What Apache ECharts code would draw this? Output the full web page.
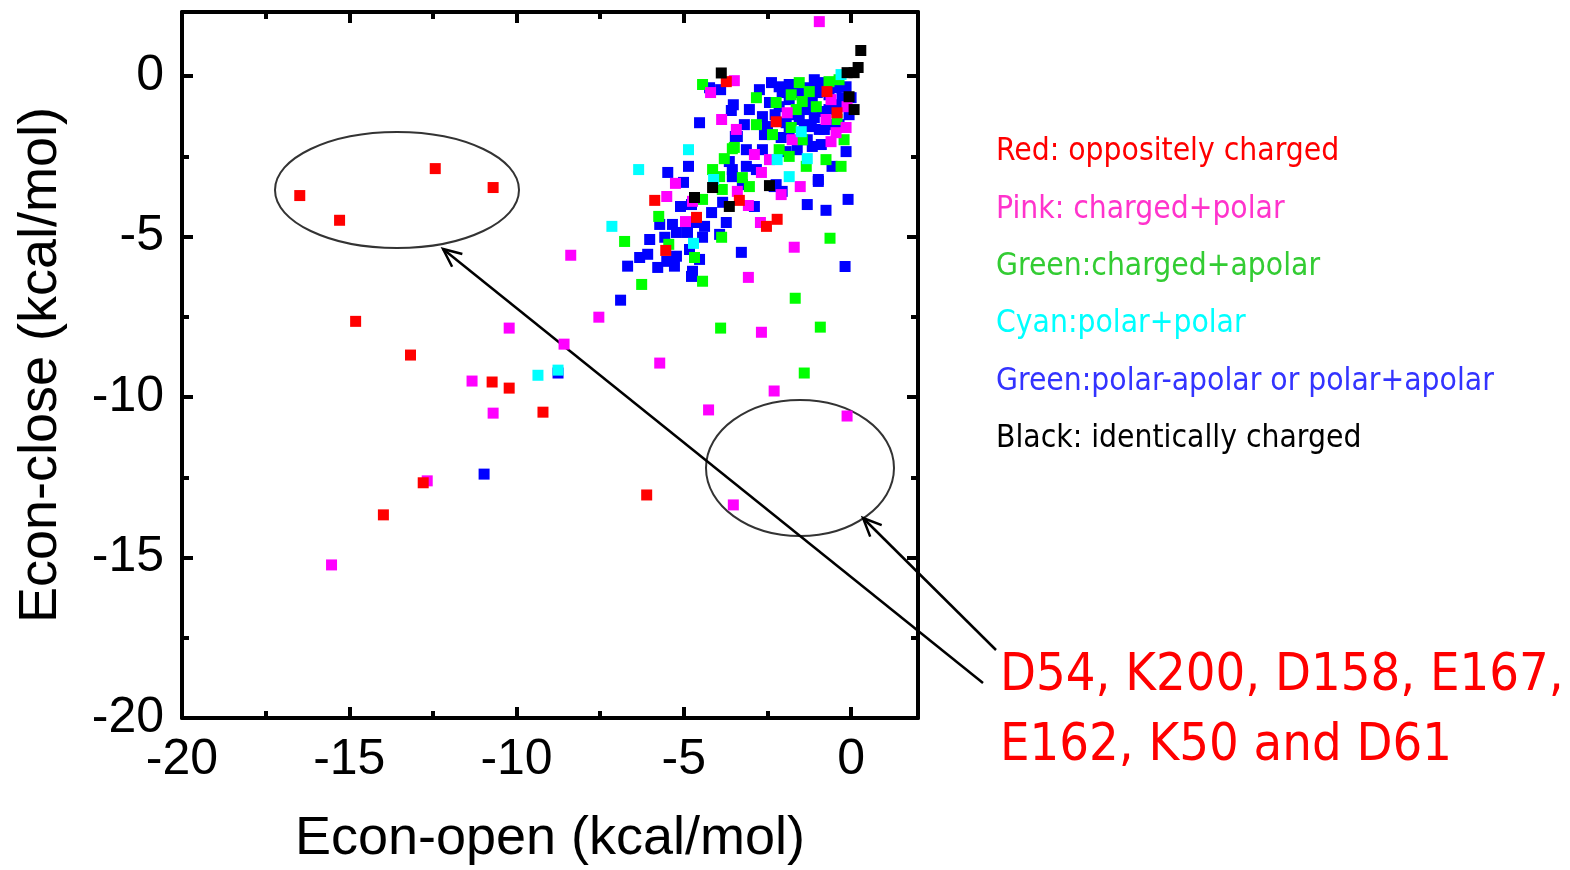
<!DOCTYPE html>
<html>
<head>
<meta charset="utf-8">
<script src="https://cdn.jsdelivr.net/npm/echarts@6/dist/echarts.min.js"></script>
<style>
html,body{margin:0;padding:0;background:#fff;}
#main{width:1570px;height:870px;}
</style>
</head>
<body>
<div id="main"></div>
<script>
// axis ticks
const xTicks = [-20, -15, -10, -5, 0];
const yTicks = [-20, -15, -10, -5, 0];

// [Econ-open, Econ-close] per pair class
const red = [[-16.48,-3.72],[-15.29,-4.49],[-12.43,-2.88],[-10.70,-3.47],[-14.81,-7.64],[-13.17,-8.69],
  [-10.73,-9.53],[-10.22,-9.72],[-9.21,-10.47],[-12.79,-12.67],[-13.98,-13.67],[-6.11,-13.05],
  [-3.73,-0.17],[-0.72,-0.48],[-0.42,-1.14],[-2.24,-1.42],[-5.87,-3.87],[-4.62,-4.40],[-5.54,-5.43],
  [-3.34,-3.87],[-2.53,-4.68],[-2.21,-4.46]];
const pink = [[-15.53,-15.23],[-12.67,-12.61],[-11.33,-9.50],[-10.70,-10.50],[-10.22,-7.85],[-8.38,-5.58],
  [-8.58,-8.35],[-7.54,-7.51],[-5.72,-8.94],[-4.26,-10.40],[-3.52,-13.36],[-2.68,-7.98],[-2.30,-9.81],
  [-0.12,-10.59],[-3.07,-6.27],[-1.70,-5.33],[-0.95,1.70],[-3.49,-0.14],[-4.20,-0.51],[-3.87,-1.35],
  [-3.43,-1.66],[-5.25,-3.34],[-1.91,-1.14],[-0.60,-0.73],[-0.12,-0.95],[-0.75,-1.35],[-0.15,-1.60],
  [-0.60,-2.04],[-0.45,-1.76],[-1.76,-1.98],[-2.89,-2.44],[-2.44,-2.60],[-2.68,-3.00],[-1.52,-3.44],
  [-5.51,-3.75],[-4.74,-3.90],[-4.95,-4.53],[-2.09,-3.69],[-3.07,-4.03],[-2.71,-4.56],[-3.40,-3.59]];
const green = [[-1.40,-9.25],[-1.67,-6.92],[-0.92,-7.82],[-3.90,-7.85],[-0.63,-5.05],[-6.26,-6.49],
  [-6.77,-5.15],[-4.44,-0.26],[-1.55,-0.20],[-0.66,-0.17],[-0.36,-0.11],[-1.79,-0.58],[-1.25,-0.48],
  [-1.46,-0.79],[-2.83,-0.67],[-2.24,-0.82],[-1.64,-1.04],[-1.04,-0.95],[-0.42,-1.35],[-2.83,-1.51],
  [-1.79,-1.60],[-0.21,-1.98],[-2.35,-1.82],[-1.46,-1.98],[-3.49,-2.22],[-2.15,-2.29],[-1.85,-2.50],
  [-1.34,-2.81],[-0.75,-2.60],[-0.30,-2.81],[-3.25,-3.16],[-3.04,-3.44],[-3.55,-2.26],[-3.79,-2.57],
  [-4.14,-2.91],[-3.93,-3.13],[-3.85,-3.53],[-4.44,-3.84],[-5.75,-4.37],[-5.45,-5.24],[-4.68,-5.65],
  [-4.44,-6.39],[-3.87,-5.02]];
const cyan = [[-9.36,-9.32],[-8.76,-9.16],[-7.15,-4.68],[-6.35,-2.91],[-4.86,-2.29],[-4.11,-3.22],
  [-2.21,-2.60],[-1.31,-2.57],[-1.49,-1.73],[-1.85,-3.13],[-4.71,-5.21],[-0.30,0.05]];
const blue = [[-10.97,-12.40],[-8.76,-9.25],[-4.23,-0.36],[-3.90,-0.42],[-3.52,-0.89],[-3.58,-1.07],
  [-4.53,-1.45],[-3.46,-1.88],[-3.64,-2.66],[-4.86,-2.81],[-5.48,-3.00],[-3.55,-2.91],[-5.01,-3.31],
  [-2.38,-0.20],[-2.15,-0.33],[-1.85,-0.26],[-1.25,-0.36],[-0.95,-0.20],[-2.06,-0.51],[-1.55,-0.51],
  [-1.01,-0.51],[-0.45,-0.36],[-0.15,-0.33],[-1.85,-0.73],[-1.16,-0.73],[-0.27,-0.67],[0.00,-0.67],
  [-2.44,-0.82],[-2.15,-0.95],[-1.34,-1.04],[-0.86,-1.10],[-2.65,-1.26],[-2.50,-1.57],[-1.94,-1.45],
  [-1.55,-1.35],[-1.19,-1.57],[-0.95,-1.66],[-3.40,-1.88],[-2.09,-1.91],[-1.16,-2.19],[-3.13,-2.29],
  [-2.65,-2.29],[-0.15,-2.35],[-1.94,-2.35],[-0.57,-2.81],[-3.13,-2.81],[-2.83,-2.91],[-3.55,-3.13],
  [-0.98,-3.22],[-2.24,-3.38],[-3.25,-3.38],[-5.10,-4.06],[-4.77,-4.00],[-4.17,-4.25],[-3.84,-3.93],
  [-5.34,-4.62],[-4.65,-4.56],[-4.38,-4.68],[-3.93,-4.93],[-6.02,-5.09],[-5.57,-5.02],[-5.22,-4.87],
  [-4.89,-4.87],[-4.44,-5.02],[-6.08,-5.55],[-5.22,-5.61],[-4.83,-5.40],[-5.51,-5.77],[-5.78,-5.96],
  [-5.28,-5.92],[-4.74,-6.08],[-4.77,-6.24],[-6.68,-5.92],[-6.89,-6.98],[-2.30,-3.44],[-2.06,-3.59],
  [-0.98,-3.28],[-2.89,-4.06],[-1.31,-4.00],[-0.75,-4.18],[-0.09,-3.84],[-3.73,-4.56],[-3.28,-5.49],
  [-0.18,-5.93],[-0.51,-1.51],[-0.06,-1.20],[-0.36,-0.89],
  [-1.70,-1.20],[-1.40,-1.51],[-1.10,-1.29],[-0.80,-1.66],[-0.66,-1.04],[-1.31,-1.98],[-1.85,-1.66],
  [-2.27,-1.20],[-2.59,-1.82],[-1.61,-2.29],[-0.89,-2.13],[-0.36,-1.51],[-0.66,-0.58],[-1.10,-0.11],
  [-2.74,-0.42],[-3.04,-1.04],[-3.19,-1.51],[-5.72,-4.62],[-4.53,-5.71],[-6.32,-5.65]];
const black = [[0.29,0.80],[0.21,0.27],[0.09,0.11],[-0.12,0.11],[-0.06,-0.64],[0.09,-1.04],[-3.88,0.10],
  [-4.14,-3.47],[-2.44,-3.41],[-3.64,-4.06],[-4.68,-3.78]];

const legendLines = [
  ['Red: oppositely charged', '#ff0000'],
  ['Pink: charged+polar', '#ff33cc'],
  ['Green:charged+apolar', '#33cc33'],
  ['Cyan:polar+polar', '#00ffff'],
  ['Green:polar-apolar or polar+apolar', '#3333ff'],
  ['Black: identically charged', '#000000']
];

const chart = echarts.init(document.getElementById('main'));

function scat(name, data, color) {
  return {
    name: name, type: 'scatter', symbol: 'rect', symbolSize: 11,
    itemStyle: {color: color, opacity: 1}, data: data, silent: true
  };
}

const tickStyle = {show: true, inside: true, length: 11, lineStyle: {color: '#000', width: 4}};
const minorStyle = {show: true, splitNumber: 2, length: 7, lineStyle: {color: '#000', width: 4}};
const lineStyle = {show: true, onZero: false, lineStyle: {color: '#000', width: 4}};
const labelFont = {fontFamily: 'Liberation Sans, Arial, sans-serif', fontSize: 50, color: '#000'};

function hideMax(v) { return v > 0 ? '' : String(v); }

const legendGraphics = legendLines.map(function (l, i) {
  return {
    type: 'text', left: 996, top: 136 + i * 57.4,
    style: {text: l[0], fill: l[1], font: '31.5px "DejaVu Sans Condensed", "DejaVu Sans", sans-serif'}
  };
});

function arrow(x1, y1, x2, y2) {
  const a = Math.atan2(y1 - y2, x1 - x2), L = 20, s = 0.42;
  return [
    {type: 'line', shape: {x1: x1, y1: y1, x2: x2, y2: y2}, style: {stroke: '#000', lineWidth: 2.5}},
    {type: 'polyline', shape: {points: [
      [x2 + L * Math.cos(a + s), y2 + L * Math.sin(a + s)], [x2, y2],
      [x2 + L * Math.cos(a - s), y2 + L * Math.sin(a - s)]]},
      style: {stroke: '#000', lineWidth: 2.5, fill: null}}
  ];
}

chart.setOption({
  animation: false,
  backgroundColor: '#fff',
  grid: {left: 182, right: 652, top: 12, bottom: 152, outerBoundsMode: 'none'},
  xAxis: [{
    type: 'value', min: -20, max: 2, interval: 5, position: 'bottom',
    name: 'Econ-open (kcal/mol)', nameLocation: 'middle', nameGap: 94,
    nameTextStyle: {fontFamily: 'Liberation Sans, Arial, sans-serif', fontSize: 54, color: '#000'},
    axisLine: lineStyle, axisTick: tickStyle, minorTick: minorStyle,
    splitLine: {show: false},
    axisLabel: Object.assign({margin: 17, formatter: hideMax}, labelFont)
  }, {
    type: 'value', min: -20, max: 2, interval: 5, position: 'top',
    axisLine: lineStyle, axisTick: tickStyle, minorTick: minorStyle,
    splitLine: {show: false}, axisLabel: {show: false}
  }],
  yAxis: [{
    type: 'value', min: -20, max: 2, interval: 5, position: 'left',
    name: 'Econ-close (kcal/mol)', nameLocation: 'middle', nameGap: 114,
    nameTextStyle: {fontFamily: 'Liberation Sans, Arial, sans-serif', fontSize: 54, color: '#000'},
    axisLine: lineStyle, axisTick: tickStyle, minorTick: minorStyle,
    splitLine: {show: false},
    axisLabel: Object.assign({margin: 18, formatter: hideMax}, labelFont)
  }, {
    type: 'value', min: -20, max: 2, interval: 5, position: 'right',
    axisLine: lineStyle, axisTick: tickStyle, minorTick: minorStyle,
    splitLine: {show: false}, axisLabel: {show: false}
  }],
  series: [
    scat('blue', blue, '#0000ff'),
    scat('green', green, '#00ff00'),
    scat('pink', pink, '#ff00ff'),
    scat('cyan', cyan, '#00ffff'),
    scat('red', red, '#ff0000'),
    scat('black', black, '#000000')
  ],
  graphic: [
    {type: 'ellipse', shape: {cx: 397, cy: 190, rx: 122, ry: 58}, style: {stroke: '#333', lineWidth: 2, fill: null}},
    {type: 'ellipse', shape: {cx: 800, cy: 468, rx: 94, ry: 68}, style: {stroke: '#333', lineWidth: 2, fill: null}}
  ].concat(arrow(983, 683, 443, 249), arrow(996, 650, 863, 518), legendGraphics, [
    {type: 'text', left: 1000, top: 650,
      style: {text: 'D54, K200, D158, E167,', fill: '#ff0000', font: '52px "DejaVu Sans Condensed", "DejaVu Sans", sans-serif'}},
    {type: 'text', left: 1000, top: 720,
      style: {text: 'E162, K50 and D61', fill: '#ff0000', font: '52px "DejaVu Sans Condensed", "DejaVu Sans", sans-serif'}}
  ])
});
</script>
</body>
</html>
